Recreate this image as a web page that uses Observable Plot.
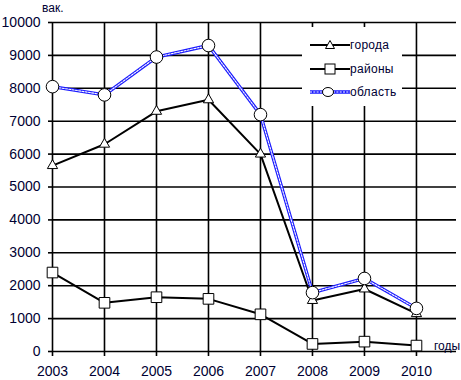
<!DOCTYPE html>
<html><head><meta charset="utf-8">
<script src="https://cdn.jsdelivr.net/npm/d3@7"></script>
<script src="https://cdn.jsdelivr.net/npm/@observablehq/plot@0.6"></script>
<style>
html,body{margin:0;padding:0;background:#fff;}
#wrap{position:relative;width:461px;height:380px;font-family:"Liberation Sans",Arial,sans-serif;}
#legend{position:absolute;left:302px;top:27px;width:100px;height:79px;background:#fff;}
.li{position:absolute;left:8px;height:16px;font-size:12px;color:#000033;display:flex;align-items:center;letter-spacing:0.3px;}
.li svg{display:block;}
.lbl{position:absolute;font-size:12px;color:#000033;}
</style></head>
<body><div id="wrap"></div>
<script>
const years = [2003, 2004, 2005, 2006, 2007, 2008, 2009, 2010];
const cities = [5650, 6300, 7300, 7650, 6000, 1550, 1900, 1150];
const districts = [2400, 1480, 1650, 1600, 1130, 230, 300, 180];
const region = [8050, 7800, 8950, 9300, 7200, 1790, 2220, 1310];
const yTicks = [0, 1000, 2000, 3000, 4000, 5000, 6000, 7000, 8000, 9000, 10000];
const seriesNames = ["города", "районы", "область"];
const yUnit = "вак.";
const xUnit = "годы";

const rows = (vals) => years.map((y, i) => ({year: y, value: vals[i]}));
const C = rows(cities), D = rows(districts), R = rows(region);
const labelColor = "#000033";

const chart = Plot.plot({
  width: 461, height: 380,
  marginLeft: 52, marginRight: 5, marginTop: 22, marginBottom: 29,
  style: {fontFamily: "'Liberation Sans', Arial, sans-serif", background: "#fff"},
  x: {domain: [2003, 2010.77]},
  y: {domain: [0, 10000]},
  marks: [
    Plot.ruleY(yTicks, {x1: 2003, x2: 2010.77, stroke: "#000", strokeWidth: 1.6}),
    Plot.ruleX(years, {y1: 0, y2: 10000, stroke: "#000", strokeWidth: 1.6}),
    Plot.axisX({ticks: years, tickFormat: d => String(d), tickSize: 5, tickPadding: 10, fontSize: 14, label: null, fill: labelColor, strokeWidth: 1.6}),
    Plot.axisY({ticks: yTicks, tickFormat: d => String(d), tickSize: 4, tickPadding: 8, fontSize: 14, label: null, fill: labelColor, strokeWidth: 1.6}),
    Plot.line(C, {x: "year", y: "value", stroke: "#000", strokeWidth: 2}),
    Plot.dot(C, {x: "year", y: "value", symbol: "triangle", r: 3.8, fill: "#fff", stroke: "#000", strokeWidth: 1}),
    Plot.line(D, {x: "year", y: "value", stroke: "#000", strokeWidth: 2}),
    Plot.dot(D, {x: "year", y: "value", symbol: "square", r: 6, fill: "#fff", stroke: "#000", strokeWidth: 1}),
    Plot.line(R, {x: "year", y: "value", stroke: "#1a1aff", strokeWidth: 3.4}),
    Plot.line(R, {x: "year", y: "value", stroke: "#fff", strokeWidth: 1.1, strokeDasharray: "2,1.3"}),
    Plot.dot(R, {x: "year", y: "value", symbol: "circle", r: 6.3, fill: "#fff", stroke: "#000", strokeWidth: 1})
  ]
});
const wrap = document.getElementById("wrap");
wrap.appendChild(chart);

// unit labels
const u1 = document.createElement("div");
u1.className = "lbl"; u1.textContent = yUnit; u1.style.left = "42px"; u1.style.top = "1px";
wrap.appendChild(u1);
const u2 = document.createElement("div");
u2.className = "lbl"; u2.textContent = xUnit; u2.style.left = "434px"; u2.style.top = "339px";
wrap.appendChild(u2);

// legend
const leg = document.createElement("div");
leg.id = "legend";
const tops = [10, 34, 57];
const sample = [
  `<line x1="0" y1="8" x2="40" y2="8" stroke="#000" stroke-width="2"/><path d="M20,3.5 L24.5,11.5 L15.5,11.5 Z" fill="#fff" stroke="#000"/>`,
  `<line x1="0" y1="8" x2="40" y2="8" stroke="#000" stroke-width="2"/><rect x="15" y="3" width="10" height="10" fill="#fff" stroke="#000"/>`,
  `<line x1="0" y1="8" x2="40" y2="8" stroke="#1a1aff" stroke-width="3.4"/><line x1="0" y1="8" x2="40" y2="8" stroke="#fff" stroke-width="1.1" stroke-dasharray="2,1.3"/><ellipse cx="18" cy="8" rx="5.5" ry="4.5" fill="#fff" stroke="#000"/>`
];
seriesNames.forEach((n, i) => {
  const d = document.createElement("div");
  d.className = "li"; d.style.top = tops[i] + "px";
  d.innerHTML = `<svg width="40" height="16">${sample[i]}</svg><span>${n}</span>`;
  leg.appendChild(d);
});
wrap.appendChild(leg);
</script></body></html>
